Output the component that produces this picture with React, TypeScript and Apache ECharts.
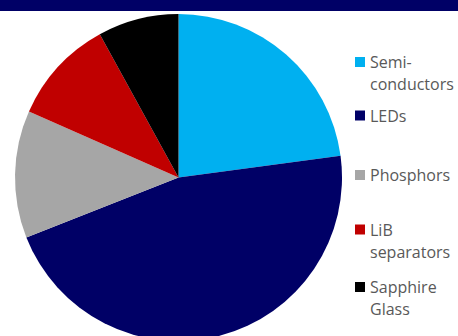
import React, { useEffect, useRef } from "react";
import * as echarts from "echarts";

const categories = ["Semiconductors", "LEDs", "Phosphors", "LiB separators", "Sapphire Glass"];
const legendLabels = ["Semi-\nconductors", "LEDs", "Phosphors", "LiB\nseparators", "Sapphire\nGlass"];
const values = [22.9, 46.2, 12.6, 10.4, 8.0];
const colors = ["#00B0F0", "#000066", "#A6A6A6", "#C00000", "#000000"];
const legendCenters = [62, 115.5, 175, 229.5, 287];

const LH = 22;

export default function App() {
  const ref = useRef<HTMLDivElement>(null);
  useEffect(() => {
    if (!ref.current) return;
    const chart = echarts.init(ref.current, undefined, { renderer: "svg" });
    const legends = categories.map((name, i) => {
      const twoLine = legendLabels[i].includes("\n");
      return {
        data: [name],
        orient: "vertical",
        left: 355,
        top: legendCenters[i] - (twoLine ? 1.5 * LH : LH / 2),
        padding: 0,
        itemWidth: 10,
        itemHeight: 10,
        itemGap: 0,
        icon: "rect",
        selectedMode: false,
        formatter: () => (twoLine ? "\n" + legendLabels[i] : legendLabels[i]),
        textStyle: {
          fontFamily: "Open Sans",
          fontSize: 16,
          color: "#595959",
          lineHeight: LH,
        },
      };
    });
    chart.setOption({
      animation: false,
      color: colors,
      legend: legends,
      graphic: [
        {
          type: "rect",
          shape: { x: 0, y: 0, width: 458, height: 11 },
          style: { fill: "#000066" },
          z: 100,
        },
      ],
      series: [
        {
          type: "pie",
          center: [178.5, 177.5],
          radius: 163.5,
          startAngle: 90,
          clockwise: true,
          silent: true,
          label: { show: false },
          labelLine: { show: false },
          itemStyle: { borderWidth: 0 },
          data: categories.map((name, i) => ({ name, value: values[i] })),
        },
      ],
    });
    return () => chart.dispose();
  }, []);
  return (
    <div
      ref={ref}
      style={{ position: "absolute", left: 0, top: 0, width: 458, height: 336, background: "#ffffff" }}
    />
  );
}
